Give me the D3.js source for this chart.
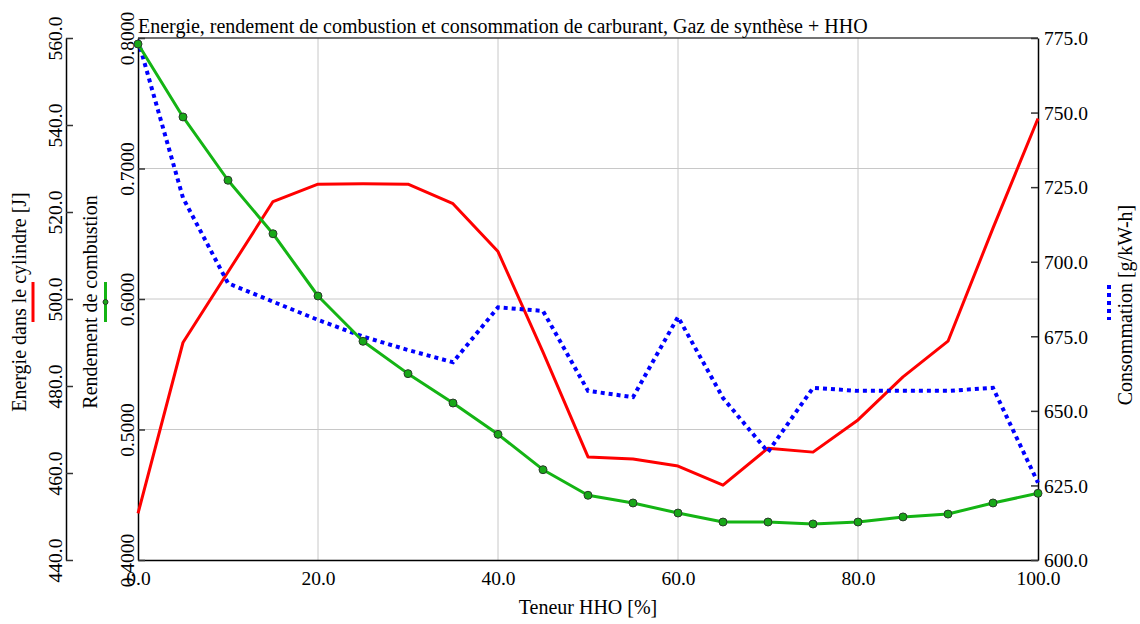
<!DOCTYPE html>
<html>
<head>
<meta charset="utf-8">
<script src="https://cdn.jsdelivr.net/npm/d3@7"></script>
<style>
  html, body { margin: 0; padding: 0; background: #fff; }
  svg { display: block; }
  text { font-family: "Liberation Serif", "Times New Roman", serif; fill: #000; }
</style>
</head>
<body>
<svg id="chart" width="1140" height="624"></svg>
<script>
// HHO content in the gas mixture [%]
const hho = [0, 5, 10, 15, 20, 25, 30, 35, 40, 45, 50, 55, 60, 65, 70, 75, 80, 85, 90, 95, 100];
// Energy in the cylinder [J]
const energie = [450.7, 490.0, 506.2, 522.4, 526.4, 526.5, 526.4, 521.9, 510.9, 487.8, 463.7,
                 463.2, 461.6, 457.2, 465.7, 464.8, 472.2, 482.1, 490.3, 516.3, 541.5];
// Combustion efficiency [-]
const rendement = [0.7954, 0.7395, 0.6910, 0.6500, 0.6023, 0.5676, 0.5428, 0.5203, 0.4963, 0.4692, 0.4496,
                   0.4437, 0.4360, 0.4291, 0.4291, 0.4276, 0.4291, 0.4330, 0.4352, 0.4437, 0.4511];
// Specific fuel consumption [g/kW-h]
const consommation = [774.3, 721.4, 692.8, 686.6, 680.5, 674.9, 670.4, 666.3, 684.7, 683.5, 656.7,
                      654.6, 681.5, 654.3, 636.2, 657.7, 656.7, 656.7, 656.7, 657.7, 625.9];

// Tick values
const xTicks = [0, 20, 40, 60, 80, 100];
const energieTicks = [440, 460, 480, 500, 520, 540, 560];
const rendementTicks = [0.4, 0.5, 0.6, 0.7, 0.8];
const consommationTicks = [600, 625, 650, 675, 700, 725, 750, 775];

const titre = "Energie, rendement de combustion et consommation de carburant, Gaz de synthèse + HHO";

const plot = { left: 138, right: 1038, top: 38, bottom: 560 };
const svg = d3.select("#chart");

const x = d3.scaleLinear().domain([0, 100]).range([plot.left, plot.right]);
const yE = d3.scaleLinear().domain([440, 560]).range([plot.bottom, plot.top]);
const yR = d3.scaleLinear().domain([0.4, 0.8]).range([plot.bottom, plot.top]);
const yC = d3.scaleLinear().domain([600, 775]).range([plot.bottom, plot.top]);

const TICK_FONT = 19.5;
const LABEL_FONT = 20;

// grid
const grid = svg.append("g").attr("stroke", "#c8c8c8").attr("stroke-width", 1);
grid.selectAll("line.v").data(xTicks.filter(d => d > 0 && d < 100)).enter().append("line")
  .attr("x1", d => x(d)).attr("x2", d => x(d)).attr("y1", plot.top).attr("y2", plot.bottom);
grid.selectAll("line.h").data(rendementTicks.filter(d => d > 0.4 && d < 0.8)).enter().append("line")
  .attr("x1", plot.left).attr("x2", plot.right).attr("y1", d => yR(d)).attr("y2", d => yR(d));

// top frame
svg.append("line").attr("x1", plot.left).attr("x2", plot.right).attr("y1", plot.top).attr("y2", plot.top)
  .attr("stroke", "#444").attr("stroke-width", 1.5);

function styleAxis(g) {
  g.selectAll(".domain").attr("stroke", "#000").attr("stroke-width", 1.5);
  g.selectAll(".tick line").attr("stroke", "#333").attr("stroke-width", 1.5);
  g.selectAll("text").attr("font-size", TICK_FONT).attr("font-family", "Liberation Serif, serif").attr("fill", "#000");
}

// x axis
const gx = svg.append("g").attr("transform", `translate(0,${plot.bottom})`)
  .call(d3.axisBottom(x).tickValues(xTicks).tickFormat(d3.format(".1f")).tickSize(0).tickSizeOuter(0));
styleAxis(gx);
gx.selectAll("text").attr("y", 18).attr("dy", "0.35em");

// energy axis (far left)
const gE = svg.append("g").attr("transform", "translate(66,0)")
  .call(d3.axisRight(yE).tickValues(energieTicks).tickFormat(d3.format(".1f")).tickSizeInner(7).tickSizeOuter(0));
styleAxis(gE);
gE.selectAll("text").attr("transform", "rotate(-90)").attr("x", 0).attr("y", -11)
  .attr("dy", "0.35em").attr("text-anchor", "middle");

// efficiency axis (plot left edge)
const gR = svg.append("g").attr("transform", `translate(${plot.left},0)`)
  .call(d3.axisRight(yR).tickValues(rendementTicks).tickFormat(d3.format(".4f")).tickSizeInner(7).tickSizeOuter(0));
styleAxis(gR);
gR.selectAll("text").attr("transform", "rotate(-90)").attr("x", 0).attr("y", -11)
  .attr("dy", "0.35em").attr("text-anchor", "middle");

// consumption axis (right)
const gC = svg.append("g").attr("transform", `translate(${plot.right},0)`)
  .call(d3.axisLeft(yC).tickValues(consommationTicks).tickFormat(d3.format(".1f")).tickSizeInner(7).tickSizeOuter(0));
styleAxis(gC);
gC.selectAll("text").attr("x", 6).attr("dy", "0.35em").attr("text-anchor", "start");

// series
const lineE = d3.line().x((d, i) => x(hho[i])).y(d => yE(d));
const lineR = d3.line().x((d, i) => x(hho[i])).y(d => yR(d));
const lineC = d3.line().x((d, i) => x(hho[i])).y(d => yC(d));

svg.append("path").datum(energie).attr("d", lineE)
  .attr("fill", "none").attr("stroke", "#ff0000").attr("stroke-width", 3).attr("stroke-linejoin", "round");

svg.append("path").datum(consommation).attr("d", lineC)
  .attr("fill", "none").attr("stroke", "#0000ff").attr("stroke-width", 4).attr("stroke-dasharray", "4,4");

svg.append("path").datum(rendement).attr("d", lineR)
  .attr("fill", "none").attr("stroke", "#14b414").attr("stroke-width", 3).attr("stroke-linejoin", "round");

svg.append("g").selectAll("circle").data(rendement).enter().append("circle")
  .attr("cx", (d, i) => x(hho[i])).attr("cy", d => yR(d)).attr("r", 4)
  .attr("fill", "#18a818").attr("stroke", "#2a3a2a").attr("stroke-width", 1);

// title
svg.append("text").attr("x", plot.left).attr("y", 33).attr("font-size", LABEL_FONT).text(titre);

// axis titles
svg.append("text").attr("x", (plot.left + plot.right) / 2).attr("y", 607).attr("dy", "0.35em")
  .attr("text-anchor", "middle").attr("font-size", LABEL_FONT).text("Teneur HHO [%]");

svg.append("text").attr("transform", "translate(19,302) rotate(-90)").attr("dy", "0.35em")
  .attr("text-anchor", "middle").attr("font-size", LABEL_FONT).text("Energie dans le cylindre [J]");
svg.append("text").attr("transform", "translate(90,302) rotate(-90)").attr("dy", "0.35em")
  .attr("text-anchor", "middle").attr("font-size", LABEL_FONT).text("Rendement de combustion");
svg.append("text").attr("transform", "translate(1125,305) rotate(-90)").attr("dy", "0.35em")
  .attr("text-anchor", "middle").attr("font-size", LABEL_FONT).text("Consommation [g/kW-h]");

// legend keys beside the axis titles
svg.append("line").attr("x1", 33).attr("x2", 33).attr("y1", 282).attr("y2", 322)
  .attr("stroke", "#ff0000").attr("stroke-width", 3);
svg.append("line").attr("x1", 105.5).attr("x2", 105.5).attr("y1", 282).attr("y2", 322)
  .attr("stroke", "#14b414").attr("stroke-width", 3);
svg.append("circle").attr("cx", 105.5).attr("cy", 302).attr("r", 2.5)
  .attr("fill", "#18a818").attr("stroke", "#2a3a2a").attr("stroke-width", 1);
svg.append("line").attr("x1", 1109).attr("x2", 1109).attr("y1", 285).attr("y2", 320)
  .attr("stroke", "#0000ff").attr("stroke-width", 4).attr("stroke-dasharray", "4,4");
</script>
</body>
</html>
